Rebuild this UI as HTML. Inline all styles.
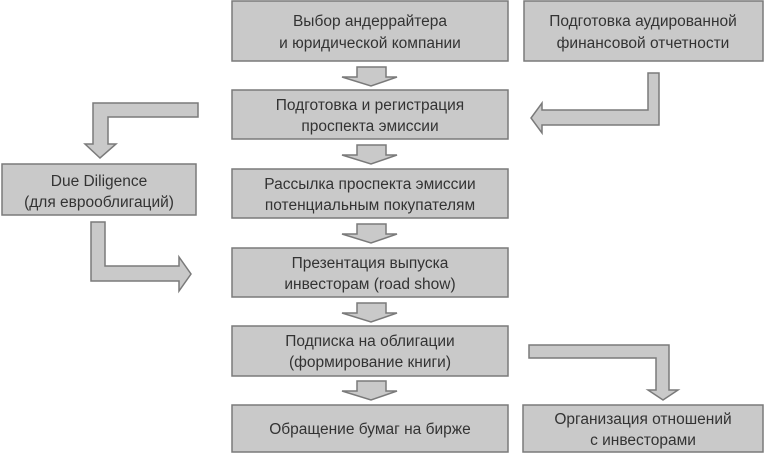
<!DOCTYPE html>
<html><head><meta charset="utf-8"><style>
body{margin:0;background:#fff;width:770px;height:455px;overflow:hidden}
svg text{font-family:"Liberation Sans Narrow","Liberation Sans",sans-serif;font-size:15.5px;fill:#333;text-anchor:middle}
</style></head><body>
<svg width="770" height="455" viewBox="0 0 770 455" xmlns="http://www.w3.org/2000/svg">
<g fill="#c9c9c9" stroke="#7a7a7a" stroke-width="1.5">
<rect x="232" y="1" width="276" height="60"/>
<rect x="524" y="1" width="239" height="60"/>
<rect x="232" y="90" width="276" height="49"/>
<rect x="2" y="164" width="194" height="51"/>
<rect x="232" y="169" width="276" height="49"/>
<rect x="232" y="248" width="276" height="49"/>
<rect x="232" y="326" width="276" height="50"/>
<rect x="232" y="405" width="276" height="47"/>
<rect x="523" y="405" width="240" height="47"/>
<!-- down arrows -->
<path d="M357 67H386V77H397L371 86L342 77H357Z"/>
<path d="M357 145H386V155H397L371 164L342 155H357Z"/>
<path d="M357 224H386V234H397L371 243L342 234H357Z"/>
<path d="M357 303H386V313H397L371 322L342 313H357Z"/>
<path d="M357 381H386V391H397L371 400L342 391H357Z"/>
<!-- left top L -->
<path d="M198 103V117H108V144H116L100 158L85 144H93V103Z"/>
<!-- right top L -->
<path d="M648 73H659V125H542V133L531 118L542 103V110H648Z"/>
<!-- due diligence to presentation -->
<path d="M91 222H105V266H179V257L191 274L179 291V281H91Z"/>
<!-- bottom right -->
<path d="M529 345H669V390H678L663 400L648 390H656V358H529Z"/>
</g>
<text x="370" y="26">Выбор андеррайтера</text>
<text x="370" y="48">и юридической компании</text>
<text x="643" y="26">Подготовка аудированной</text>
<text x="643" y="48">финансовой отчетности</text>
<text x="370" y="110">Подготовка и регистрация</text>
<text x="370" y="131">проспекта эмиссии</text>
<text x="99" y="186">Due Diligence</text>
<text x="99" y="207">(для еврооблигаций)</text>
<text x="370" y="189">Рассылка проспекта эмиссии</text>
<text x="370" y="210">потенциальным покупателям</text>
<text x="370" y="268">Презентация выпуска</text>
<text x="370" y="289">инвесторам (road show)</text>
<text x="370" y="346">Подписка на облигации</text>
<text x="370" y="367">(формирование книги)</text>
<text x="370" y="434">Обращение бумаг на бирже</text>
<text x="643" y="424">Организация отношений</text>
<text x="643" y="445">с инвесторами</text>
</svg>
</body></html>
